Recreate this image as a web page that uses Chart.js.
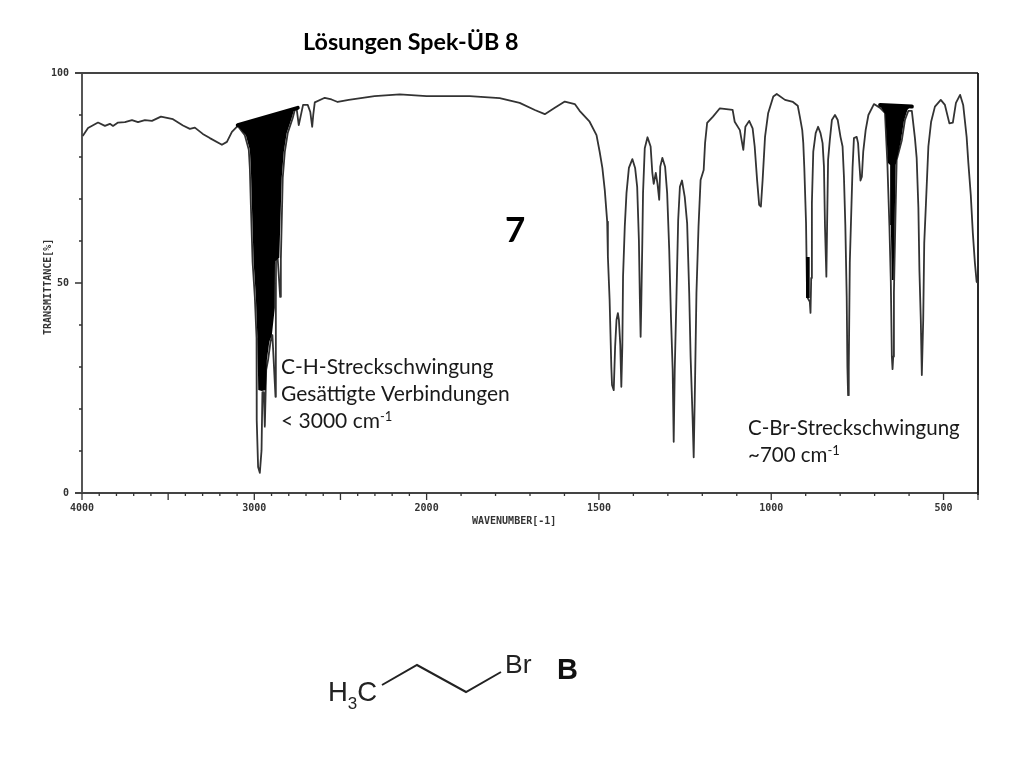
<!DOCTYPE html>
<html>
<head>
<meta charset="utf-8">
<title>Lösungen Spek-ÜB 8</title>
<script src="https://cdn.jsdelivr.net/npm/chart.js@4"></script>
<style>
  html, body { margin: 0; padding: 0; background: #fff; }
  canvas { display: block; }
</style>
</head>
<body>
<canvas id="irChart" width="1024" height="768"></canvas>
<script>
// spectrum: wavenumber (cm-1) and transmittance (%)
const spectrumWn = [
  3996, 3965, 3907, 3867, 3838, 3820, 3791, 3751, 3710, 3675, 3635, 3594, 3542, 3472, 3414, 3374, 3345, 3299, 3258, 3188,
  3159, 3130, 3096, 3055, 3032, 3026, 3020, 3010, 2997, 2987, 2986, 2978, 2968, 2958, 2953, 2945, 2939, 2931, 2920, 2906,
  2895, 2877, 2875, 2874, 2864, 2850, 2846, 2835, 2823, 2806, 2777, 2765, 2754, 2742, 2717, 2690, 2675, 2664, 2658, 2649,
  2591, 2552, 2516, 2452, 2302, 2156, 2000, 1875, 1788, 1730, 1686, 1657, 1628, 1599, 1570, 1556, 1527, 1507, 1498, 1490,
  1483, 1476, 1474, 1469, 1464, 1462, 1457, 1453, 1449, 1445, 1442, 1438, 1435, 1432, 1430, 1425, 1420, 1413, 1403, 1395,
  1389, 1384, 1381, 1379, 1377, 1374, 1372, 1367, 1359, 1350, 1345, 1341, 1335, 1330, 1325, 1322, 1316, 1308, 1302, 1296,
  1291, 1286, 1283, 1280, 1275, 1270, 1265, 1259, 1251, 1244, 1238, 1234, 1228, 1225, 1221, 1217, 1211, 1205, 1196, 1192,
  1186, 1169, 1149, 1112, 1106, 1091, 1081, 1075, 1064, 1054, 1048, 1041, 1035, 1030, 1025, 1018, 1009, 994, 984, 960,
  937, 923, 917, 910, 907, 904, 899, 896, 888, 886, 884, 882, 878, 871, 864, 857, 851, 847, 844, 840,
  838, 835, 830, 824, 815, 807, 799, 793, 789, 785, 781, 779, 777, 775, 772, 767, 764, 760, 752, 748,
  745, 741, 737, 733, 726, 718, 702, 684, 670, 663, 657, 653, 650, 648, 646, 644, 640, 636, 621, 612,
  602, 592, 583, 578, 573, 570, 566, 563, 559, 556, 551, 544, 536, 525, 508, 496, 483, 473, 464, 452,
  443, 433, 428, 421, 415, 409, 404, 400
];
const spectrumT = [
  85.0, 86.9, 88.2, 87.4, 87.9, 87.4, 88.2, 88.3, 88.8, 88.3, 88.8, 88.6, 89.6, 89.0, 87.5, 86.7, 87.0, 85.5, 84.5, 82.9,
  83.6, 86.0, 87.4, 85.2, 81.7, 77.4, 68.6, 55.0, 46.7, 36.9, 17.4, 6.2, 4.8, 10.2, 24.0, 24.0, 15.8, 29.3, 31.7, 36.0,
  37.6, 22.9, 44.8, 55.5, 55.7, 46.7, 55.5, 75.0, 81.2, 85.7, 89.3, 91.2, 91.4, 87.6, 92.4, 92.4, 90.7, 87.2, 90.0, 93.0,
  94.1, 93.7, 93.1, 93.6, 94.5, 94.9, 94.5, 94.5, 94.0, 92.9, 91.2, 90.2, 91.7, 93.2, 92.6, 91.0, 88.4, 85.2, 81.3, 77.4,
  72.1, 64.6, 56.3, 46.0, 30.0, 25.7, 24.5, 34.8, 41.2, 42.8, 41.2, 35.2, 25.3, 35.2, 51.5, 63.4, 71.4, 77.4, 79.5, 77.4,
  72.9, 60.2, 45.2, 37.2, 45.2, 60.2, 71.4, 82.1, 84.7, 82.5, 76.2, 73.6, 76.2, 73.6, 69.8, 77.7, 79.8, 77.7, 71.4, 57.9,
  42.0, 29.3, 12.2, 29.3, 46.7, 65.0, 72.9, 74.4, 70.5, 64.2, 47.6, 32.5, 17.4, 8.5, 26.9, 47.6, 63.4, 74.5, 76.9, 83.3,
  88.1, 89.6, 91.6, 91.2, 88.4, 86.4, 81.7, 87.2, 88.6, 86.8, 82.5, 74.5, 68.6, 68.2, 74.5, 84.8, 90.4, 94.4, 95.0, 93.6,
  93.1, 92.2, 89.6, 86.4, 83.3, 77.4, 64.3, 46.7, 45.5, 42.9, 51.2, 69.0, 81.3, 85.7, 87.2, 85.7, 83.3, 77.7, 63.4, 51.5,
  63.1, 79.3, 84.0, 88.8, 90.0, 88.8, 84.8, 82.5, 75.3, 63.8, 46.7, 30.1, 23.3, 30.1, 54.8, 69.0, 77.4, 84.5, 84.8, 83.3,
  79.3, 74.4, 75.3, 81.3, 86.4, 90.0, 92.6, 91.7, 90.5, 78.6, 63.4, 50.3, 32.5, 29.5, 32.5, 47.6, 63.8, 79.3, 84.0, 88.8,
  91.0, 91.0, 84.5, 79.8, 67.9, 53.1, 41.2, 28.1, 41.2, 59.5, 69.0, 82.5, 88.4, 92.0, 93.6, 92.4, 88.0, 88.2, 92.9, 94.8,
  92.4, 84.8, 78.6, 71.0, 61.9, 54.8, 50.3, 50.0
];

// blacked out bands of the printout: straight top edge and the lower edge under it
const chTopWn = [3096, 2748];
const chTopT = [87.6, 91.7];
const chEdgeWn = [3090, 3049, 3026, 3020, 3014, 3004, 2991, 2982, 2977, 2956, 2933, 2927, 2913, 2898, 2881, 2880, 2855, 2841, 2829, 2812, 2783, 2771, 2754];
const chEdgeT = [87.1, 85.2, 81.7, 77.4, 68.6, 55.0, 46.7, 36.9, 24.5, 24.3, 24.5, 31.7, 36.0, 37.6, 44.1, 55.2, 56.0, 75.0, 81.2, 85.7, 89.3, 91.0, 91.6];
const brTopWn = [684, 592];
const brTopT = [92.4, 92.0];
const brEdgeWn = [682, 669, 661, 655, 653, 650, 645, 642, 639, 624, 615, 605, 597];
const brEdgeT = [91.9, 90.2, 78.6, 78.1, 63.8, 50.7, 50.7, 63.8, 78.1, 83.8, 88.6, 91.2, 91.9];
const blobTopWn = [899, 888];
const blobTopT = [56.2, 56.2];
const blobEdgeWn = [899, 888];
const blobEdgeT = [46.4, 46.4];

const xLabels = [4000, 3000, 2000, 1500, 1000, 500];
const xMajorTicks = [4000, 3500, 3000, 2500, 2000, 1500, 1000, 500];
const yLabels = [0, 50, 100];

// the printout changes x scale at 2000 cm-1 (twice as wide below it)
function wnPos(wn) {
  return wn >= 2000 ? (4000 - wn) / 2 : 1000 + (2000 - wn);
}
function posWn(p) {
  return p <= 1000 ? 4000 - p * 2 : 2000 - (p - 1000);
}
function points(wn, t) {
  return wn.map((w, i) => ({ x: wnPos(w), y: t[i] }));
}

const ink = "#333";
const sans = "Lato";
const monoFont = 'bold 10px "DejaVu Sans Mono"';

function bandTop(wn, t) {
  return {
    data: points(wn, t), borderColor: "#000", backgroundColor: "#000",
    borderWidth: 4, borderCapStyle: "round", fill: "+1", pointRadius: 0, tension: 0
  };
}
function bandEdge(wn, t) {
  return { data: points(wn, t), borderWidth: 0, borderColor: "transparent", fill: false, pointRadius: 0, tension: 0 };
}

const frame = {
  id: "frame",
  beforeDatasetsDraw(chart) {
    const { ctx, chartArea: { top, bottom, left, right }, scales: { x, y } } = chart;
    ctx.save();
    ctx.strokeStyle = "#444";
    ctx.lineWidth = 1.8;
    ctx.beginPath();
    ctx.moveTo(left - 7, top); ctx.lineTo(right, top);
    ctx.moveTo(left - 7, bottom); ctx.lineTo(right, bottom);
    ctx.moveTo(left, top); ctx.lineTo(left, bottom);
    ctx.stroke();
    ctx.strokeStyle = "#111";
    ctx.beginPath();
    ctx.moveTo(right, top); ctx.lineTo(right, bottom + 2);
    ctx.stroke();

    // tick marks, every 100 cm-1 and every 10 %
    ctx.strokeStyle = ink;
    ctx.lineWidth = 1.3;
    ctx.beginPath();
    for (let wn = 4000; wn >= 400; wn -= 100) {
      const px = x.getPixelForValue(wnPos(wn));
      ctx.moveTo(px, bottom);
      ctx.lineTo(px, bottom + (xMajorTicks.includes(wn) || wn === 400 ? 7 : 3));
    }
    for (let t = 10; t < 100; t += 10) {
      const py = y.getPixelForValue(t);
      ctx.moveTo(left, py);
      ctx.lineTo(left - (t === 50 ? 7 : 3), py);
    }
    ctx.stroke();
    ctx.restore();
  }
};

function label(ctx, text, px, py, font, color) {
  ctx.font = font;
  ctx.fillStyle = color || "#1a1a1a";
  ctx.fillText(text, px, py);
  return ctx.measureText(text).width;
}

const notes = {
  id: "notes",
  afterDraw(chart) {
    const ctx = chart.ctx;
    const chFont = `21px ${sans}`;
    const brFont = `20.5px ${sans}`;
    const supFont = `13px ${sans}`;
    ctx.save();
    ctx.textAlign = "left";
    ctx.textBaseline = "alphabetic";

    label(ctx, "Lösungen Spek-ÜB 8", 303, 50, `bold 23.3px ${sans}`, "#000");
    label(ctx, "7", 505, 242, `bold 35px ${sans}`, "#000");

    label(ctx, "C-H-Streckschwingung", 281, 374, chFont);
    label(ctx, "Gesättigte Verbindungen", 281, 401, chFont);
    let w = label(ctx, "< 3000 cm", 281, 428, chFont);
    label(ctx, "-1", 281 + w, 421, supFont);

    label(ctx, "C-Br-Streckschwingung", 748, 435, brFont);
    w = label(ctx, "~700 cm", 748, 462, brFont);
    label(ctx, "-1", 748 + w, 455, supFont);

    // axis captions
    label(ctx, "WAVENUMBER[-1]", 472, 524, monoFont, ink);
    ctx.save();
    ctx.translate(51, 335);
    ctx.rotate(-Math.PI / 2);
    label(ctx, "TRANSMITTANCE[%]", 0, 0, monoFont, ink);
    ctx.restore();

    // structure formula
    ctx.strokeStyle = "#222";
    ctx.lineWidth = 2;
    ctx.beginPath();
    ctx.moveTo(382, 685); ctx.lineTo(417, 665); ctx.lineTo(466, 692); ctx.lineTo(501, 672);
    ctx.stroke();
    const chemFont = '27.5px "Liberation Sans"';
    w = label(ctx, "H", 328, 701, chemFont, "#222");
    const w3 = label(ctx, "3", 328 + w, 709, '17px "Liberation Sans"', "#222");
    label(ctx, "C", 328 + w + w3, 701, chemFont, "#222");
    label(ctx, "Br", 505, 673, '26.5px "Liberation Sans"', "#222");
    label(ctx, "B", 557, 679, 'bold 29px "Liberation Sans"', "#111");
    ctx.restore();
  }
};

new Chart(document.getElementById("irChart"), {
  type: "line",
  data: {
    datasets: [
      bandTop(chTopWn, chTopT), bandEdge(chEdgeWn, chEdgeT),
      bandTop(brTopWn, brTopT), bandEdge(brEdgeWn, brEdgeT),
      { ...bandTop(blobTopWn, blobTopT), borderWidth: 0 }, bandEdge(blobEdgeWn, blobEdgeT),
      {
        label: "Transmittance",
        data: points(spectrumWn, spectrumT),
        borderColor: ink,
        borderWidth: 1.8,
        borderJoinStyle: "round",
        fill: false,
        pointRadius: 0,
        tension: 0
      }
    ]
  },
  options: {
    responsive: false,
    animation: false,
    devicePixelRatio: 1,
    layout: { padding: { top: 73, right: 46, left: 0, bottom: 0 } },
    plugins: { legend: { display: false }, tooltip: { enabled: false } },
    scales: {
      x: {
        type: "linear",
        min: 0,
        max: 2600,
        grid: { display: false, drawTicks: false },
        border: { display: false },
        afterBuildTicks(scale) { scale.ticks = xLabels.map(wn => ({ value: wnPos(wn) })); },
        afterFit(scale) { scale.height = 275; },
        ticks: {
          autoSkip: false,
          maxRotation: 0,
          padding: 9,
          color: ink,
          font: { family: "DejaVu Sans Mono", size: 10, weight: "bold" },
          callback: value => String(posWn(value))
        }
      },
      y: {
        min: 0,
        max: 100,
        grid: { display: false, drawTicks: false },
        border: { display: false },
        afterBuildTicks(scale) { scale.ticks = yLabels.map(t => ({ value: t })); },
        afterFit(scale) { scale.width = 82; },
        ticks: {
          autoSkip: false,
          padding: 13,
          color: ink,
          font: { family: "DejaVu Sans Mono", size: 10, weight: "bold" }
        }
      }
    }
  },
  plugins: [frame, notes]
});
</script>
</body>
</html>
